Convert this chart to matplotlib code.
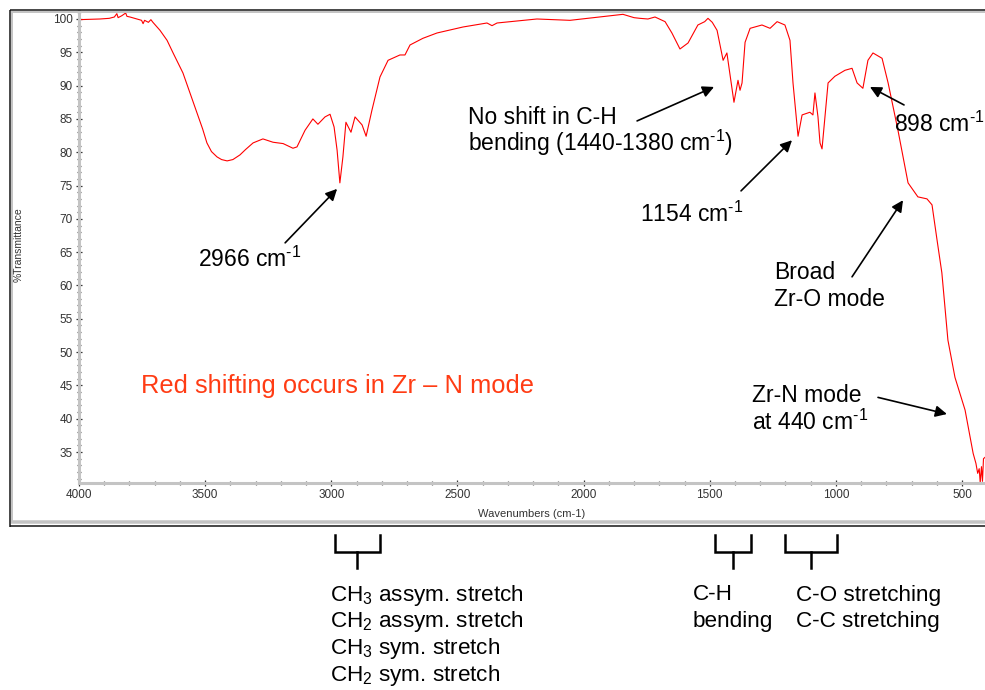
import matplotlib
matplotlib.use("Agg")
import matplotlib.pyplot as plt
from matplotlib.lines import Line2D
from matplotlib.transforms import blended_transform_factory
from matplotlib.ticker import MultipleLocator

plt.rcParams['font.family'] = ['Liberation Sans', 'DejaVu Sans']
plt.rcParams['mathtext.fontset'] = 'custom'
plt.rcParams['mathtext.rm'] = 'Liberation Sans'
plt.rcParams['mathtext.it'] = 'Liberation Sans:italic'
plt.rcParams['mathtext.bf'] = 'Liberation Sans:bold'

# ---- data ----
wavenumber = [4000, 3917, 3880, 3860, 3850, 3845, 3830, 3815, 3810, 3798, 3770, 3752,
              3746, 3740, 3725, 3715, 3707, 3679, 3651, 3627, 3588, 3560, 3532, 3510,
              3493, 3475, 3453, 3435, 3413, 3390, 3362, 3340, 3310, 3271, 3231, 3191,
              3152, 3136, 3104, 3073, 3053, 3025, 3005, 2989, 2977, 2966, 2954, 2942,
              2922, 2906, 2878, 2862, 2839, 2807, 2775, 2728, 2708, 2688, 2637, 2581,
              2478, 2383, 2363, 2343, 2185, 2054, 1844, 1800, 1777, 1745, 1717, 1677,
              1650, 1618, 1586, 1547, 1520, 1507, 1490, 1471, 1447, 1432, 1404, 1388,
              1380, 1372, 1360, 1340, 1293, 1261, 1233, 1202, 1182, 1170, 1150, 1134,
              1103, 1091, 1083, 1071, 1063, 1055, 1031, 1004, 964, 936, 916, 893, 873,
              853, 817, 793, 754, 714, 675, 639, 619, 599, 580, 556, 528, 488, 456, 445,
              438, 432, 428, 423, 419, 415, 409]
transmittance = [99.9, 100.0, 100.1, 100.3, 100.8, 100.2, 100.5, 100.9, 100.4, 100.3,
                 100.0, 99.8, 99.3, 99.8, 99.5, 99.9, 99.5, 98.3, 96.8, 94.9, 91.9, 88.9,
                 85.9, 83.5, 81.4, 80.1, 79.3, 78.9, 78.7, 78.9, 79.6, 80.4, 81.4, 82.0,
                 81.5, 81.3, 80.6, 80.8, 83.3, 85.0, 84.2, 85.3, 85.7, 83.8, 80.3, 75.4,
                 79.3, 84.5, 83.0, 85.3, 84.1, 82.4, 86.3, 91.3, 93.8, 94.6, 94.6, 96.1,
                 97.1, 97.9, 98.8, 99.4, 99.0, 99.4, 100.0, 99.8, 100.7, 100.2, 100.1,
                 100.0, 100.3, 99.6, 97.9, 95.5, 96.4, 99.1, 99.6, 100.1, 99.5, 98.3, 93.8,
                 94.9, 87.5, 90.8, 89.3, 90.4, 96.5, 98.6, 99.1, 98.6, 99.6, 99.1, 96.8,
                 90.4, 82.4, 85.6, 86.0, 85.6, 88.9, 85.3, 81.4, 80.5, 90.4, 91.4, 92.3,
                 92.6, 90.4, 89.6, 93.8, 94.9, 94.1, 90.4, 83.3, 75.4, 73.3, 73.0, 72.1,
                 66.8, 61.9, 51.8, 46.2, 41.3, 34.8, 33.3, 31.8, 32.5, 30.4, 32.8, 30.6,
                 34.0, 34.2]

x_major_ticks = [4000, 3500, 3000, 2500, 2000, 1500, 1000, 500]
y_major_ticks = [35, 40, 45, 50, 55, 60, 65, 70, 75, 80, 85, 90, 95, 100]

W, H = 985, 690
def fx(px):
    return px / W
def fy(py):
    return 1 - py / H

fig = plt.figure(figsize=(W / 100, H / 100), dpi=100)
fig.patch.set_facecolor('white')

ax = fig.add_axes([fx(79), fy(483), fx(985) - fx(79), fy(11) - fy(483)])
ax.set_facecolor('none')
ax.plot(wavenumber, transmittance, color='#ff0000', lw=0.8)
ax.set_xlim(4000, 409)
ax.set_ylim(30.35, 101.2)

for s in ['top', 'right']:
    ax.spines[s].set_visible(False)
for s in ['left', 'bottom']:
    ax.spines[s].set_color('#c4c4c4')
    ax.spines[s].set_linewidth(2.2)

ax.set_xticks(x_major_ticks)
ax.set_yticks(y_major_ticks)
ax.xaxis.set_minor_locator(MultipleLocator(100))
ax.yaxis.set_minor_locator(MultipleLocator(1))
ax.tick_params(which='major', direction='inout', length=5, width=0.9, color='#333333',
               labelsize=8.5, labelcolor='#333333', pad=2)
ax.tick_params(which='minor', direction='inout', length=2.5, width=0.9, color='#555555')

fig.text((fx(79) + fx(985)) / 2, fy(514), 'Wavenumbers (cm-1)', ha='center', va='center',
         fontsize=8, color='#333333')
fig.text(fx(19), fy(245), '%Transmittance', rotation=90, ha='center', va='center',
         fontsize=7.5, color='#333333')

# frame
def fline(x0, y0, x1, y1, color, lw_px):
    fig.add_artist(Line2D([fx(x0), fx(x1)], [fy(y0), fy(y1)], color=color,
                          lw=lw_px * 0.72, transform=fig.transFigure, solid_capstyle='butt'))

fline(9.5, 10, 985, 10, '#111111', 1.5)
fline(11, 12, 985, 12, '#c4c4c4', 2)
fline(9.5, 10, 9.5, 526.5, '#111111', 1.5)
fline(11.5, 12, 11.5, 522, '#c4c4c4', 2)
fline(11, 522, 985, 522, '#c4c4c4', 3.5)
fline(9.5, 526, 985, 526, '#111111', 1.5)

# annotations
afs = 16.5
sup = r'$^{\text{-1}}$'
arrow = dict(arrowstyle='-|>', color='black', lw=1.2, mutation_scale=17, shrinkA=0, shrinkB=0)

def note(x, y, s, **kw):
    ax.text(x, y, s, fontsize=afs, ha='left', va='baseline', **kw)

ax.annotate('', xy=(2977, 74.5), xytext=(3183, 66.4), arrowprops=arrow)
note(3528, 62.8, '2966 cm' + sup)

ax.annotate('', xy=(1483, 89.8), xytext=(1788, 84.7), arrowprops=arrow)
note(2458, 84.23, 'No shift in C-H')
note(2458, 80.18, 'bending (1440-1380 cm' + sup + ')')

ax.annotate('', xy=(1174, 81.8), xytext=(1376, 74.2), arrowprops=arrow)
note(1776, 69.6, '1154 cm' + sup)

ax.annotate('', xy=(865, 89.8), xytext=(730, 87.1), arrowprops=arrow)
note(770, 83.1, '898 cm' + sup)

ax.annotate('', xy=(734, 72.8), xytext=(936, 61.3), arrowprops=arrow)
note(1245, 60.9, 'Broad')
note(1245, 56.9, 'Zr-O mode')

ax.annotate('', xy=(560, 40.7), xytext=(833, 43.2), arrowprops=arrow)
note(1333, 42.5, 'Zr-N mode')
note(1333, 38.3, 'at 440 cm' + sup)

ax.text(3754, 43.8, 'Red shifting occurs in Zr \u2013 N mode', fontsize=18.4,
        color='#ff3c14', ha='left', va='baseline')

# brackets below the chart
bt = blended_transform_factory(ax.transData, fig.transFigure)
brackets = [(2985, 2807, 2898), (1479, 1336, 1408), (1202, 996, 1099)]
for x1, x2, xs in brackets:
    ax.plot([x1, x1, x2, x2], [fy(535), fy(552), fy(552), fy(535)], color='black',
            lw=1.8, transform=bt, clip_on=False, solid_joinstyle='miter')
    ax.plot([xs, xs], [fy(552), fy(568)], color='black', lw=1.8, transform=bt,
            clip_on=False)

bfs = 16.2
group1 = [r'CH$_{\mathrm{3}}$ assym. stretch', r'CH$_{\mathrm{2}}$ assym. stretch',
          r'CH$_{\mathrm{3}}$ sym. stretch', r'CH$_{\mathrm{2}}$ sym. stretch']
for i, t in enumerate(group1):
    ax.text(3005, fy(600.5 + 26.8 * i), t, fontsize=bfs, transform=bt, ha='left',
            va='baseline')
for i, t in enumerate(['C-H', 'bending']):
    ax.text(1568, fy(600.5 + 26.8 * i), t, fontsize=bfs, transform=bt, ha='left',
            va='baseline')
for i, t in enumerate(['C-O stretching', 'C-C stretching']):
    ax.text(1160, fy(600.5 + 26.8 * i), t, fontsize=bfs, transform=bt, ha='left',
            va='baseline')

fig.savefig('out.png', dpi=100)
